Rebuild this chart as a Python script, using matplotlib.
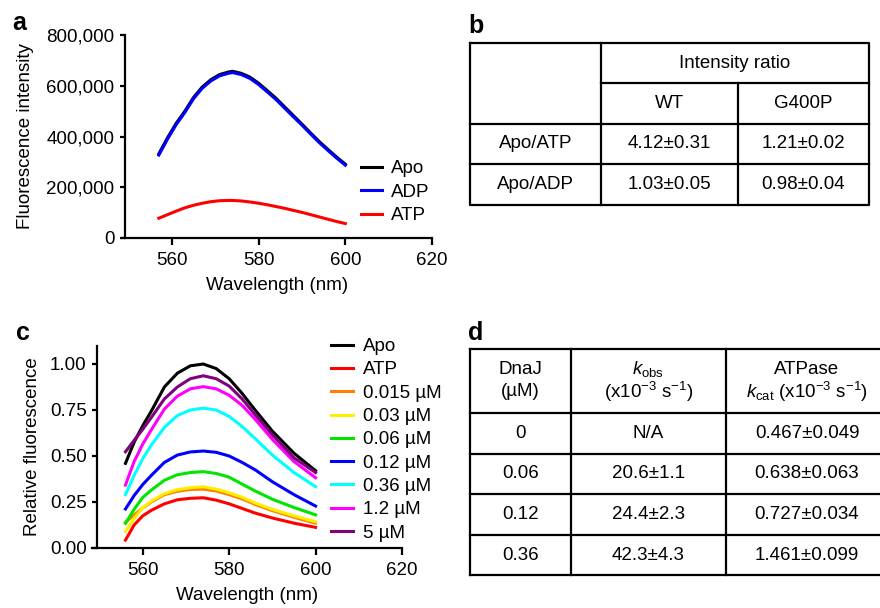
import matplotlib
matplotlib.use("Agg")
import matplotlib.pyplot as plt
from matplotlib.ticker import FuncFormatter

plt.rcParams["font.family"] = ["Liberation Sans", "DejaVu Sans"]
plt.rcParams["mathtext.fontset"] = "custom"
plt.rcParams["mathtext.rm"] = "Liberation Sans"
plt.rcParams["mathtext.it"] = "Liberation Sans:italic"
plt.rcParams["font.size"] = 13.5

W, H = 880, 608

# ---- panel a: raw spectra ----
wl_a = [557, 559, 561, 563, 565, 567, 569, 571, 573, 574, 576, 578, 580, 582, 584, 586, 588, 590, 592, 594, 596, 598, 600]
apo_a = [332000, 395000, 452000, 500000, 554000, 595000, 624000, 644000, 654000, 657000, 649000, 634000,
         610000, 581000, 551000, 517000, 483000, 449000, 414000, 380000, 349000, 319000, 291000]
adp_a = [327000, 390000, 447000, 495000, 549000, 590000, 619000, 639000, 649000, 652000, 644000, 629000,
         605000, 576000, 546000, 512000, 478000, 445000, 410000, 376000, 345000, 315000, 287000]
atp_a = [78000, 92000, 106000, 119000, 129000, 137000, 143000, 147000, 148000, 148000, 146000, 142000,
         137000, 131000, 124000, 117000, 109000, 101000, 92000, 83000, 74000, 65000, 57000]

# ---- panel c: normalised spectra with DnaJ ----
wl_c = [556, 558, 560, 562, 565, 568, 571, 574, 577, 580, 583, 586, 590, 595, 600]
c_labels = ["Apo", "ATP", "0.015 \u00b5M", "0.03 \u00b5M", "0.06 \u00b5M", "0.12 \u00b5M",
            "0.36 \u00b5M", "1.2 \u00b5M", "5 \u00b5M"]
c_colors = ["#000000", "#ff0000", "#ff8000", "#ffee00", "#00e600", "#0000ff",
            "#00ffff", "#ff00ff", "#800080"]
c_apo = [0.46, 0.575, 0.665, 0.745, 0.875, 0.95, 0.99, 1.00, 0.975, 0.92, 0.84, 0.75, 0.635, 0.515, 0.42]
c_atp = [0.043, 0.125, 0.175, 0.205, 0.24, 0.262, 0.27, 0.273, 0.26, 0.24, 0.215, 0.19, 0.163, 0.135, 0.112]
c_0015 = [0.14, 0.18, 0.218, 0.25, 0.29, 0.308, 0.318, 0.32, 0.31, 0.29, 0.267, 0.237, 0.203, 0.167, 0.135]
c_003 = [0.089, 0.16, 0.22, 0.255, 0.296, 0.317, 0.328, 0.333, 0.32, 0.30, 0.276, 0.245, 0.21, 0.175, 0.143]
c_006 = [0.134, 0.21, 0.275, 0.315, 0.368, 0.398, 0.41, 0.415, 0.405, 0.385, 0.347, 0.31, 0.265, 0.22, 0.18]
c_012 = [0.212, 0.285, 0.345, 0.395, 0.465, 0.505, 0.522, 0.527, 0.52, 0.50, 0.465, 0.425, 0.36, 0.29, 0.228]
c_036 = [0.29, 0.395, 0.485, 0.56, 0.655, 0.72, 0.75, 0.76, 0.75, 0.715, 0.66, 0.595, 0.505, 0.41, 0.333]
c_12 = [0.342, 0.47, 0.565, 0.643, 0.755, 0.825, 0.865, 0.877, 0.865, 0.83, 0.775, 0.70, 0.59, 0.47, 0.382]
c_5 = [0.523, 0.585, 0.645, 0.71, 0.81, 0.875, 0.92, 0.936, 0.92, 0.88, 0.81, 0.725, 0.615, 0.49, 0.41]

# ---- table b ----
b_cols = ["WT", "G400P"]
b_rows = ["Apo/ATP", "Apo/ADP"]
b_vals = [["4.12\u00b10.31", "1.21\u00b10.02"],
          ["1.03\u00b10.05", "0.98\u00b10.04"]]

# ---- table d ----
d_head_top = ["DnaJ", r"$\it{k}_{\rm obs}$", "ATPase"]
d_head_bot = ["(\u00b5M)", r"(x10$^{-3}$ s$^{-1}$)", r"$\it{k}_{\rm cat}$ (x10$^{-3}$ s$^{-1}$)"]
d_dnaj = ["0", "0.06", "0.12", "0.36"]
d_kobs = ["N/A", "20.6\u00b11.1", "24.4\u00b12.3", "42.3\u00b14.3"]
d_kcat = ["0.467\u00b10.049", "0.638\u00b10.063", "0.727\u00b10.034", "1.461\u00b10.099"]


def px_axes(fig, left, top, right, bottom):
    return fig.add_axes([left / W, 1 - bottom / H, (right - left) / W, (bottom - top) / H])


def style(ax, yspine_at):
    for s in ("top", "right"):
        ax.spines[s].set_visible(False)
    for s in ("left", "bottom"):
        ax.spines[s].set_linewidth(1.6)
    # x axis line runs a little past the y axis, like the original
    ax.spines["left"].set_position(("data", yspine_at))
    ax.tick_params(axis="both", width=1.6, labelsize=13.5)
    ax.tick_params(axis="y", length=3.5, pad=4)
    ax.tick_params(axis="x", length=5, pad=5)


fig = plt.figure(figsize=(8.8, 6.08), dpi=100)

# panel a
ax_a = px_axes(fig, 122, 35, 432, 238)
ax_a.plot(wl_a, apo_a, color="black", lw=2.2, label="Apo")
ax_a.plot(wl_a, adp_a, color="#0000ff", lw=2.2, label="ADP")
ax_a.plot(wl_a, atp_a, color="#ff0000", lw=2.2, label="ATP")
ax_a.set_xlim(548.5, 620)
ax_a.set_ylim(0, 800000)
ax_a.set_xticks([560, 580, 600, 620])
ax_a.set_yticks([0, 200000, 400000, 600000, 800000])
ax_a.yaxis.set_major_formatter(FuncFormatter(lambda v, p: f"{int(v):,}"))
ax_a.set_xlabel("Wavelength (nm)", fontsize=13.5, labelpad=6)
ax_a.set_ylabel("Fluorescence intensity", fontsize=13.5, labelpad=9)
style(ax_a, 549.2)
ax_a.legend(loc="upper left", bbox_to_anchor=(361 / W, 1 - 160 / H), bbox_transform=fig.transFigure,
            frameon=False, fontsize=13.5, handlelength=1.1, handletextpad=0.5,
            labelspacing=0.34, borderpad=0, borderaxespad=0)

# panel c
ax_c = px_axes(fig, 92, 345.6, 402, 548)
c_series = [c_apo, c_atp, c_0015, c_003, c_006, c_012, c_036, c_12, c_5]
for vals, lab, col in zip(c_series, c_labels, c_colors):
    ax_c.plot(wl_c, vals, color=col, lw=2.2, label=lab)
ax_c.set_xlim(548.25, 620)
ax_c.set_ylim(0, 1.1)
ax_c.set_xticks([560, 580, 600, 620])
ax_c.set_yticks([0, 0.25, 0.5, 0.75, 1.0])
ax_c.yaxis.set_major_formatter(FuncFormatter(lambda v, p: f"{v:.2f}"))
ax_c.set_xlabel("Wavelength (nm)", fontsize=13.5, labelpad=6)
ax_c.set_ylabel("Relative fluorescence", fontsize=13.5, labelpad=6)
style(ax_c, 549.4)
ax_c.legend(loc="upper left", bbox_to_anchor=(331 / W, 1 - 338 / H), bbox_transform=fig.transFigure,
            frameon=False, fontsize=13.5, handlelength=1.15, handletextpad=0.55,
            labelspacing=0.33, borderpad=0, borderaxespad=0)

# overlay for tables and panel letters (pixel coordinates)
ov = fig.add_axes([0, 0, 1, 1])
ov.set_xlim(0, W)
ov.set_ylim(H, 0)
ov.axis("off")

for letter, x, y in [("a", 12, 30), ("b", 468, 33), ("c", 16, 340), ("d", 468, 340)]:
    ov.text(x, y, letter, fontsize=18, fontweight="bold", va="baseline", ha="left")

lw_t = 1.6
fs_t = 13.5
# table b
bx = [470, 601, 738, 869]
by = [43, 83, 124, 164, 205]
ov.plot([bx[0], bx[3], bx[3], bx[0], bx[0]], [by[0], by[0], by[4], by[4], by[0]], color="black", lw=lw_t)
ov.plot([bx[1], bx[3]], [by[1], by[1]], color="black", lw=lw_t)
for yy in by[2:4]:
    ov.plot([bx[0], bx[3]], [yy, yy], color="black", lw=lw_t)
ov.plot([bx[1], bx[1]], [by[0], by[4]], color="black", lw=lw_t)
ov.plot([bx[2], bx[2]], [by[1], by[4]], color="black", lw=lw_t)
ov.text((bx[1] + bx[3]) / 2, (by[0] + by[1]) / 2, "Intensity ratio", ha="center", va="center", fontsize=fs_t)
for j, name in enumerate(b_cols):
    ov.text((bx[j + 1] + bx[j + 2]) / 2, (by[1] + by[2]) / 2, name, ha="center", va="center", fontsize=fs_t)
for i, name in enumerate(b_rows):
    yc = (by[i + 2] + by[i + 3]) / 2
    ov.text((bx[0] + bx[1]) / 2, yc, name, ha="center", va="center", fontsize=fs_t)
    for j, v in enumerate(b_vals[i]):
        ov.text((bx[j + 1] + bx[j + 2]) / 2, yc, v, ha="center", va="center", fontsize=fs_t)

# table d (runs off the right edge)
dx = [470, 571, 726, 888]
dy = [349, 413, 454, 494, 535, 575]
for yy in dy:
    ov.plot([dx[0], dx[3]], [yy, yy], color="black", lw=lw_t)
for xx in dx:
    ov.plot([xx, xx], [dy[0], dy[-1]], color="black", lw=lw_t)
for j in range(3):
    xc = (dx[j] + dx[j + 1]) / 2
    ov.text(xc, 369, d_head_top[j], ha="center", va="center", fontsize=fs_t)
    ov.text(xc, 392, d_head_bot[j], ha="center", va="center", fontsize=fs_t)
for i in range(4):
    yc = (dy[i + 1] + dy[i + 2]) / 2
    for j, v in enumerate([d_dnaj[i], d_kobs[i], d_kcat[i]]):
        ov.text((dx[j] + dx[j + 1]) / 2, yc, v, ha="center", va="center", fontsize=fs_t)

fig.savefig("out.png", dpi=100)
